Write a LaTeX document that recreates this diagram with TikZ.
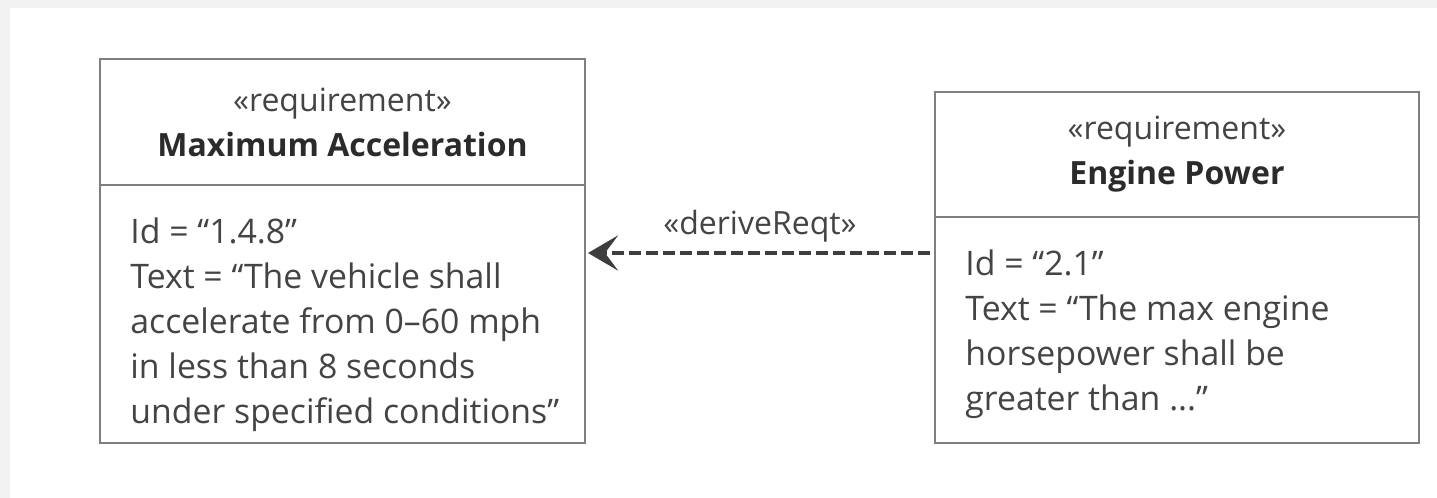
\documentclass[tikz,border=0pt]{standalone}
\usepackage{fontspec}
\setmainfont{Open Sans}
\usetikzlibrary{positioning,arrows.meta}
\definecolor{edgegray}{HTML}{7F7F7F}
\definecolor{textgray}{HTML}{444444}
\definecolor{titlegray}{HTML}{2B2B2B}
\definecolor{panelgray}{HTML}{F2F2F2}

\begin{document}
\begin{tikzpicture}[
  x=0.5pt, y=-0.5pt,
  every node/.style={
    rectangle,
    text=textgray,
    font=\fontsize{16}{22.5}\selectfont,
  },
  reqhead/.style={draw=edgegray, line width=1.3pt, outer sep=0pt, inner sep=0pt, align=center},
  reqbody/.style={draw=edgegray, line width=1.3pt, outer sep=0pt, inner sep=0pt},
  reqtext/.style={align=left, inner sep=0pt, font=\fontsize{16.9}{22.5}\selectfont},
  derive/.style={draw=textgray!90!black, line width=1.8pt, dash pattern=on 6pt off 2.5pt,
    -{Stealth[length=15pt,width=17.5pt,inset=6.5pt]}, shorten >=1.5pt, shorten <=2.5pt}
]
\fill[panelgray] (0,0) rectangle (1437,498);
\fill[white] (10,8) rectangle (1437,498);

\node[reqhead, minimum width=242.5pt, minimum height=63pt, anchor=north west] (maxhead) at (100,59)
  {«requirement»\\{\color{titlegray}\bfseries Maximum Acceleration}};
\node[reqbody, minimum width=242.5pt, minimum height=129pt, below=0pt of maxhead] (maxbody) {};
\node[reqtext, below right=16pt and 15pt of maxbody.north west] (maxtext)
  {Id = “1.4.8”\\Text = “The vehicle shall\\accelerate from 0–60 mph\\in less than 8 seconds\\under specified conditions”};

\node[reqhead, minimum width=242pt, minimum height=62.5pt, anchor=north west] (enghead) at (935,92)
  {«requirement»\\{\color{titlegray}\bfseries Engine Power}};
\node[reqbody, minimum width=242pt, minimum height=113pt, below=0pt of enghead] (engbody) {};
\node[reqtext, below right=16pt and 15pt of engbody.north west] (engtext)
  {Id = “2.1”\\Text = “The max engine\\horsepower shall be\\greater than ...”};

\coordinate[below=18pt of engbody.north west] (derivestart);
\draw[derive] (derivestart) -- (derivestart -| maxbody.east)
  node[midway, above=1pt] (derivelabel) {«deriveReqt»};
\end{tikzpicture}
\end{document}
